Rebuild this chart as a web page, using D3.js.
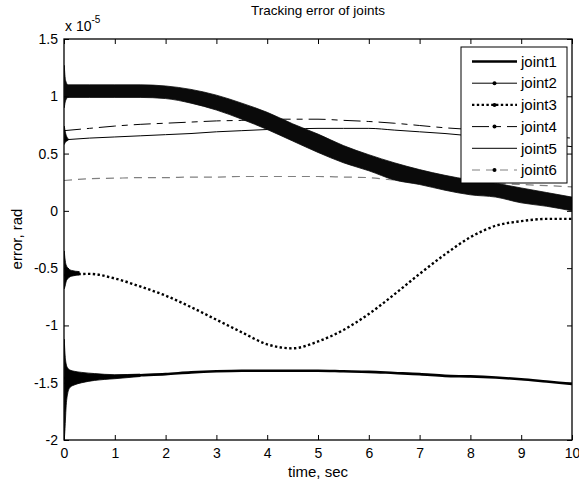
<!DOCTYPE html>
<html>
<head>
<meta charset="utf-8">
<script src="https://cdn.jsdelivr.net/npm/d3@7/dist/d3.min.js"></script>
<style>
  html, body { margin: 0; padding: 0; background: #fff; }
  svg { display: block; }
  text { font-family: "Liberation Sans", Arial, Helvetica, sans-serif; fill: #000; }
</style>
</head>
<body>
<svg id="chart" width="579" height="480"></svg>
<script>
// ---------------- data (values in units of 1e-5 rad) ----------------
const xTicks = [0, 1, 2, 3, 4, 5, 6, 7, 8, 9, 10];
const yTicks = [-2, -1.5, -1, -0.5, 0, 0.5, 1, 1.5];
const yTickLabels = ["-2", "-1.5", "-1", "-0.5", "0", "0.5", "1", "1.5"];
const seriesNames = ["joint1", "joint2", "joint3", "joint4", "joint5", "joint6"];

const timeSec = [0, 0.5, 1, 1.5, 2, 2.5, 3, 3.5, 4, 4.5, 5, 5.5, 6, 6.5, 7, 7.5, 8, 8.5, 9, 9.5, 10];
const joint1 = [-1.46, -1.455, -1.445, -1.435, -1.425, -1.41, -1.40, -1.395, -1.395, -1.395, -1.395, -1.40, -1.405, -1.415, -1.425, -1.44, -1.445, -1.455, -1.47, -1.49, -1.51];
const joint3 = [-0.56, -0.55, -0.59, -0.66, -0.74, -0.84, -0.95, -1.06, -1.165, -1.2, -1.14, -1.04, -0.9, -0.73, -0.55, -0.38, -0.23, -0.13, -0.09, -0.07, -0.07];
const joint4 = [0.70, 0.72, 0.74, 0.755, 0.765, 0.775, 0.785, 0.79, 0.80, 0.80, 0.80, 0.79, 0.78, 0.765, 0.745, 0.725, 0.71, 0.69, 0.67, 0.65, 0.635];
const joint5 = [0.62, 0.635, 0.645, 0.655, 0.665, 0.675, 0.69, 0.70, 0.71, 0.715, 0.72, 0.72, 0.72, 0.705, 0.69, 0.675, 0.655, 0.635, 0.61, 0.585, 0.56];
const joint6 = [0.265, 0.28, 0.285, 0.29, 0.29, 0.295, 0.295, 0.30, 0.30, 0.30, 0.30, 0.295, 0.29, 0.27, 0.265, 0.26, 0.25, 0.24, 0.23, 0.22, 0.21];

// joint2 oscillates fast: its band envelope
const joint2Time  = [0.005, 0.03, 0.08, 0.5, 1, 1.5, 2, 2.5, 3, 3.5, 4, 4.5, 5, 5.5, 6, 6.5, 7, 7.5, 8, 8.5, 9, 9.5, 10];
const joint2Upper = [1.27, 1.14, 1.10, 1.10, 1.10, 1.10, 1.09, 1.06, 1.01, 0.94, 0.86, 0.76, 0.67, 0.57, 0.49, 0.42, 0.36, 0.31, 0.27, 0.24, 0.20, 0.16, 0.12];
const joint2Lower = [0.90, 0.96, 0.99, 0.99, 0.99, 0.99, 0.98, 0.94, 0.88, 0.80, 0.71, 0.61, 0.51, 0.42, 0.35, 0.27, 0.23, 0.18, 0.14, 0.12, 0.07, 0.04, 0.00];

// start-up transients (envelopes)
const joint1BandTime = [0.005, 0.02, 0.04, 0.07, 0.12, 0.2, 0.35, 0.6, 1.0, 1.5];
const joint1BandLo   = [-2.0, -1.9, -1.72, -1.6, -1.54, -1.52, -1.50, -1.48, -1.465, -1.446];
const joint1BandHi   = [-1.12, -1.25, -1.33, -1.37, -1.39, -1.40, -1.41, -1.42, -1.43, -1.425];
const joint3BandTime = [0.005, 0.02, 0.04, 0.08, 0.15, 0.3];
const joint3BandLo   = [-0.68, -0.66, -0.62, -0.59, -0.57, -0.56];
const joint3BandHi   = [-0.35, -0.42, -0.47, -0.50, -0.52, -0.53];
const joint5BandTime = [0.005, 0.03, 0.08];
const joint5BandLo   = [0.58, 0.60, 0.615];
const joint5BandHi   = [0.74, 0.68, 0.63];

// ---------------- layout ----------------
const svg = d3.select("#chart");
const L = 64, R = 572, T = 39, B = 440;
const x = d3.scaleLinear().domain([0, 10]).range([L, R]);
const y = d3.scaleLinear().domain([-2, 1.5]).range([B, T]);

svg.append("defs").append("clipPath").attr("id", "clip")
  .append("rect").attr("x", L).attr("y", T).attr("width", R - L).attr("height", B - T);

const plot = svg.append("g").attr("clip-path", "url(#clip)");

const line = d3.line().x(d => x(d[0])).y(d => y(d[1])).curve(d3.curveMonotoneX);
const band = d3.area().x(d => x(d[0])).y0(d => y(d[1])).y1(d => y(d[2])).curve(d3.curveMonotoneX);
const zip2 = (t, v) => t.map((tt, i) => [tt, v[i]]);
const zip3 = (t, a, b) => t.map((tt, i) => [tt, a[i], b[i]]);

const styles = {
  joint1: { stroke: "#000", width: 2.6, dash: null },
  joint2: { stroke: "#000", width: 1, dash: null },
  joint3: { stroke: "#000", width: 2.4, dash: "2.4,2.4" },
  joint4: { stroke: "#000", width: 1, dash: "17,6,6,6" },
  joint5: { stroke: "#000", width: 1, dash: null },
  joint6: { stroke: "#808080", width: 1.2, dash: "8,6" }
};

function drawLine(data, st) {
  plot.append("path").datum(data).attr("d", line)
    .attr("fill", "none").attr("stroke", st.stroke)
    .attr("stroke-width", st.width)
    .attr("stroke-dasharray", st.dash);
}
function drawBand(data, color) {
  plot.append("path").datum(data).attr("d", band)
    .attr("fill", color).attr("stroke", color).attr("stroke-width", 0.8);
}

drawLine(zip2(timeSec, joint5), styles.joint5);
drawBand(zip3(joint5BandTime, joint5BandLo, joint5BandHi), "#000");
drawLine(zip2(timeSec, joint4), styles.joint4);
drawLine(zip2(timeSec, joint6), styles.joint6);
drawLine(zip2(timeSec, joint3), styles.joint3);
drawBand(zip3(joint3BandTime, joint3BandLo, joint3BandHi), "#000");
drawLine(zip2(timeSec, joint1), styles.joint1);
drawBand(zip3(joint1BandTime, joint1BandLo, joint1BandHi), "#000");
drawBand(zip3(joint2Time, joint2Lower, joint2Upper), "#0a0a0a");

// ---------------- axes ----------------
const fontTick = 14;
const gx = svg.append("g").attr("transform", `translate(0,${B})`)
  .call(d3.axisBottom(x).tickValues(xTicks).tickSize(-5).tickPadding(8).tickFormat(d3.format("d")));
const gxTop = svg.append("g").attr("transform", `translate(0,${T})`)
  .call(d3.axisTop(x).tickValues(xTicks).tickSize(-5).tickFormat(""));
const gy = svg.append("g").attr("transform", `translate(${L},0)`)
  .call(d3.axisLeft(y).tickValues(yTicks).tickSize(-5).tickPadding(6).tickFormat((d, i) => yTickLabels[i]));
const gyR = svg.append("g").attr("transform", `translate(${R},0)`)
  .call(d3.axisRight(y).tickValues(yTicks).tickSize(-5).tickFormat(""));

[gx, gxTop, gy, gyR].forEach(g => {
  g.select(".domain").remove();
  g.selectAll(".tick line").attr("stroke", "#000").attr("stroke-width", 1);
  g.selectAll("text").attr("font-size", fontTick).attr("font-family", "Liberation Sans, Arial, sans-serif");
});
svg.append("rect").attr("x", L).attr("y", T).attr("width", R - L).attr("height", B - T)
  .attr("fill", "none").attr("stroke", "#000").attr("stroke-width", 1.3);

// ---------------- texts ----------------
svg.append("text").attr("x", (L + R) / 2).attr("y", 15).attr("text-anchor", "middle")
  .attr("font-size", 13.5).text("Tracking error of joints");
const ex = svg.append("text").attr("x", 65).attr("y", 31).attr("font-size", 14);
ex.append("tspan").text("x 10");
ex.append("tspan").attr("font-size", 10).attr("dy", -8).text("-5");
svg.append("text").attr("x", (L + R) / 2).attr("y", 477).attr("text-anchor", "middle")
  .attr("font-size", 15).text("time, sec");
svg.append("text").attr("transform", "translate(22,239) rotate(-90)").attr("text-anchor", "middle")
  .attr("font-size", 15).text("error, rad");

// ---------------- legend ----------------
const leg = svg.append("g");
leg.append("rect").attr("x", 461).attr("y", 47).attr("width", 106).attr("height", 136)
  .attr("fill", "#fff").attr("stroke", "#000").attr("stroke-width", 1);
const markers = { joint1: false, joint2: true, joint3: true, joint4: true, joint5: false, joint6: true };
seriesNames.forEach((name, i) => {
  const yy = 61.5 + i * 21.7;
  const st = styles[name];
  leg.append("line").attr("x1", 472).attr("x2", 517).attr("y1", yy).attr("y2", yy)
    .attr("stroke", st.stroke).attr("stroke-width", st.width).attr("stroke-dasharray", st.dash);
  if (markers[name]) {
    leg.append("circle").attr("cx", 494.5).attr("cy", yy).attr("r", 2).attr("fill", "#000");
  }
  leg.append("text").attr("x", 521).attr("y", yy).attr("dy", "0.35em")
    .attr("font-size", 15).text(name);
});
</script>
</body>
</html>
